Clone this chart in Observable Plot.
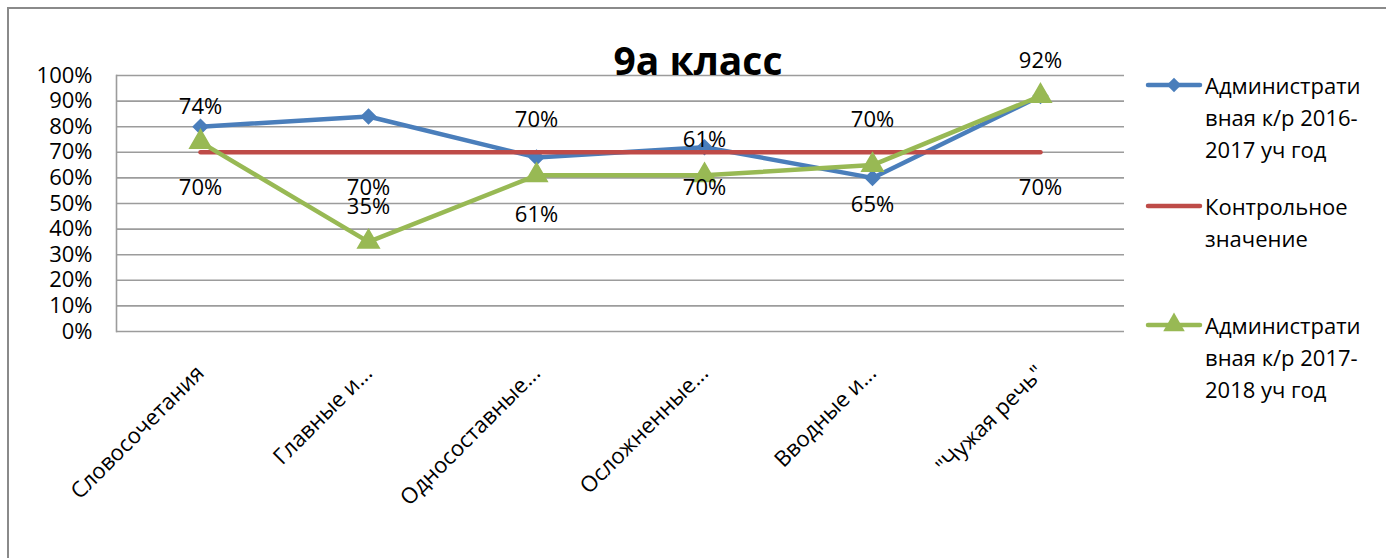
<!DOCTYPE html>
<html>
<head>
<meta charset="utf-8">
<script src="https://cdn.jsdelivr.net/npm/d3@7"></script>
<script src="https://cdn.jsdelivr.net/npm/@observablehq/plot@0.6"></script>
<style>
  html, body { margin: 0; padding: 0; background: #fff; }
  #wrap { position: relative; width: 1386px; height: 558px; overflow: hidden; font-family: "Open Sans", sans-serif; color: #000; }
  #frame { position: absolute; left: 7px; top: 7px; right: -10px; bottom: -10px; border-left: 2px solid #8a8a8a; border-top: 2px solid #8a8a8a; }
  #title { position: absolute; left: 0; width: 1396px; top: 35px; text-align: center; font-size: 39px; font-weight: bold; line-height: 50px; }
  .leg { position: absolute; left: 1145px; font-size: 22px; line-height: 32px; }
  .leg svg { position: absolute; left: 0; top: 0; }
  .leg .txt { position: absolute; left: 60px; top: 0; white-space: nowrap; }
  #chart { position: absolute; left: 0; top: 0; }
</style>
</head>
<body>
<div id="wrap">
  <div id="frame"></div>
  <div id="chart"></div>
  <div id="title"></div>
  <div id="legend"></div>
</div>
<script>
// ---- data ----
const categories = ["Словосочетания", "Главные и...", "Односоставные...", "Осложненные...", "Вводные и...", "\"Чужая речь\""];
const series2016 = [0.80, 0.84, 0.68, 0.72, 0.60, 0.92];
const seriesControl = [0.70, 0.70, 0.70, 0.70, 0.70, 0.70];
const series2017 = [0.74, 0.35, 0.61, 0.61, 0.65, 0.92];
const yTicks = [0, 0.1, 0.2, 0.3, 0.4, 0.5, 0.6, 0.7, 0.8, 0.9, 1.0];
const seriesNames = ["Администрати\nвная к/р 2016-\n2017 уч год", "Контрольное\nзначение", "Администрати\nвная к/р 2017-\n2018 уч год"];
const titleText = "9а класс";

// ---- label placement (style) ----
const side2017 = ["above", "above", "below", "above", "below", "above"];
const sideControl = ["below", "below", "above", "below", "above", "below"];

const colors = ["#4A7EBB", "#BE4B48", "#98B954"];

const rows = (vals) => categories.map((c, i) => ({cat: c, v: vals[i], i}));
const d16 = rows(series2016), dC = rows(seriesControl), d17 = rows(series2017);
const fmt = d3.format(".0%");

const plot = Plot.plot({
  width: 1386, height: 558,
  marginLeft: 116, marginRight: 262, marginTop: 75, marginBottom: 227,
  style: {fontFamily: "'Open Sans', sans-serif", fontSize: "22px", color: "#000", background: "transparent"},
  x: {type: "point", domain: categories, padding: 0.5, label: null},
  y: {domain: [0, 1], label: null},
  marks: [
    Plot.gridY(yTicks, {stroke: "#9c9c9c", strokeOpacity: 1, strokeWidth: 1.6}),
    Plot.frame({anchor: "left", stroke: "#9c9c9c", strokeWidth: 1.6}),
    Plot.axisY(yTicks, {tickSize: 0, tickPadding: 24, tickFormat: fmt, fontSize: 22, label: null}),
    Plot.axisX({tickSize: 0, tickPadding: 38, tickRotate: -45, fontSize: 22, label: null}),
    Plot.line(d16, {x: "cat", y: "v", stroke: colors[0], strokeWidth: 4.5}),
    Plot.dot(d16, {x: "cat", y: "v", symbol: "diamond2", r: 6.5, fill: colors[0], stroke: colors[0]}),
    Plot.line(dC, {x: "cat", y: "v", stroke: colors[1], strokeWidth: 4.5}),
    Plot.line(d17, {x: "cat", y: "v", stroke: colors[2], strokeWidth: 4.5}),
    Plot.dot(d17, {x: "cat", y: "v", symbol: "triangle", r: 8, fill: colors[2], stroke: colors[2]}),
    Plot.text(d17.filter(d => side2017[d.i] === "above"), {x: "cat", y: "v", text: d => fmt(d.v), dy: -35, fontSize: 22, fill: "#000"}),
    Plot.text(d17.filter(d => side2017[d.i] === "below"), {x: "cat", y: "v", text: d => fmt(d.v), dy: 40, fontSize: 22, fill: "#000"}),
    Plot.text(dC.filter(d => sideControl[d.i] === "above"), {x: "cat", y: "v", text: d => fmt(d.v), dy: -32, fontSize: 22, fill: "#000"}),
    Plot.text(dC.filter(d => sideControl[d.i] === "below"), {x: "cat", y: "v", text: d => fmt(d.v), dy: 36, fontSize: 22, fill: "#000"})
  ]
});
document.getElementById("chart").appendChild(plot);
document.getElementById("title").textContent = titleText;

// ---- legend ----
const legTops = [69, 190, 309];
const legSymbols = ["diamond2", "none", "triangle"];
const legend = document.getElementById("legend");
seriesNames.forEach((name, k) => {
  const item = document.createElement("div");
  item.className = "leg";
  item.style.top = legTops[k] + "px";
  const svg = d3.create("svg").attr("width", 60).attr("height", 32);
  svg.append("line").attr("x1", 3).attr("x2", 55).attr("y1", 16).attr("y2", 16)
    .attr("stroke", colors[k]).attr("stroke-width", 4.5).attr("stroke-linecap", "round");
  if (legSymbols[k] !== "none") {
    const sym = legSymbols[k] === "diamond2" ? d3.symbol(d3.symbolDiamond2, Math.PI * 6.5 * 6.5) : d3.symbol(d3.symbolTriangle, Math.PI * 8 * 8);
    svg.append("path").attr("d", sym()).attr("transform", "translate(29,16)").attr("fill", colors[k]);
  }
  item.appendChild(svg.node());
  const t = document.createElement("div");
  t.className = "txt";
  t.innerHTML = name.split("\n").join("<br>");
  item.appendChild(t);
  legend.appendChild(item);
});
</script>
</body>
</html>
